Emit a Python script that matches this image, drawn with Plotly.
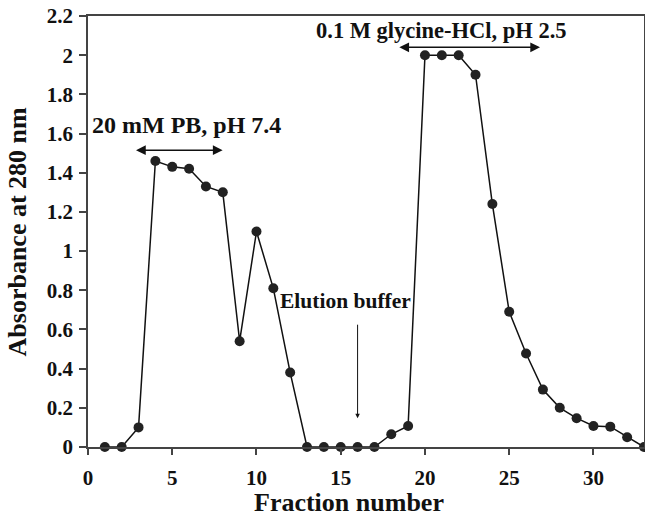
import plotly.graph_objects as go

fraction = list(range(1, 34))
absorbance = [0, 0, 0.10, 1.46, 1.43, 1.42, 1.33, 1.30, 0.54, 1.10, 0.81, 0.38,
              0, 0, 0, 0, 0, 0.065, 0.107, 2.0, 2.0, 2.0, 1.90, 1.24, 0.69, 0.477,
              0.293, 0.20, 0.147, 0.107, 0.104, 0.05, 0]

x_ticks = [0, 5, 10, 15, 20, 25, 30]
y_ticks = [0, 0.2, 0.4, 0.6, 0.8, 1, 1.2, 1.4, 1.6, 1.8, 2, 2.2]
y_ticklabels = ["0", "0.2", "0.4", "0.6", "0.8", "1", "1.2", "1.4", "1.6", "1.8", "2", "2.2"]

FONT = "Liberation Serif"
fig = go.Figure()
fig.add_trace(go.Scatter(
    x=fraction, y=absorbance, mode="lines+markers",
    line=dict(color="#111111", width=1.5),
    marker=dict(color="#222222", size=10),
    showlegend=False, cliponaxis=False, hoverinfo="x+y",
))

texts = [
    dict(x=5.82, y=1.643, text="<b>20 mM PB, pH 7.4</b>", size=24),
    dict(x=20.97, y=2.128, text="<b>0.1 M glycine-HCl, pH 2.5</b>", size=22.5),
    dict(x=15.3, y=0.744, text="<b>Elution buffer</b>", size=21.5),
]
for t in texts:
    fig.add_annotation(x=t["x"], y=t["y"], text=t["text"], showarrow=False,
                       font=dict(family=FONT, size=t["size"], color="#111111"),
                       xref="x", yref="y")

# double-headed arrows
arrows = [
    (2.76, 1.515, 7.99, 1.515),
    (18.39, 2.04, 26.83, 2.04),
]
for x0, y0, x1, y1 in arrows:
    fig.add_annotation(x=x1, y=y1, ax=x0, ay=y0, xref="x", yref="y", axref="x", ayref="y",
                       text="", showarrow=True, arrowhead=2, startarrowhead=2,
                       arrowside="end+start", arrowsize=1.3, arrowwidth=1.5,
                       arrowcolor="#111111")
fig.add_annotation(x=16, y=0.147, ax=16, ay=0.632, xref="x", yref="y", axref="x", ayref="y",
                   text="", showarrow=True, arrowhead=2, arrowsize=0.9, arrowwidth=1,
                   arrowcolor="#111111")

# axis titles
title_font = dict(family=FONT, size=26, color="#111111")
fig.add_annotation(x=0.469, y=-0.129, xref="paper", yref="paper", text="<b>Fraction number</b>",
                   showarrow=False, font=title_font, xanchor="center", yanchor="middle")
fig.add_annotation(x=-0.126, y=0.50, xref="paper", yref="paper", text="<b>Absorbance at 280 nm</b>",
                   showarrow=False, font=title_font, textangle=-90,
                   xanchor="center", yanchor="middle")

fig.update_layout(
    width=645, height=520,
    margin=dict(l=88, r=1, t=16, b=73),
    paper_bgcolor="white", plot_bgcolor="white",
    font=dict(family=FONT, color="#111111"),
    xaxis=dict(
        range=[0, 33], tickvals=x_ticks, ticktext=[f"<b>{v}</b>" for v in x_ticks],
        showgrid=False, zeroline=False, automargin=False,
        showline=True, linecolor="#444444", linewidth=1.8, mirror=True,
        ticks="outside", ticklen=6, tickcolor="#444444", tickwidth=1.5,
        ticklabelstandoff=5,
        tickfont=dict(family=FONT, size=21, color="#111111"),
    ),
    yaxis=dict(
        range=[0, 2.2], tickvals=y_ticks, ticktext=[f"<b>{s}</b>" for s in y_ticklabels],
        showgrid=False, zeroline=False, automargin=False,
        showline=True, linecolor="#444444", linewidth=1.8, mirror=True,
        ticks="outside", ticklen=7, tickcolor="#444444", tickwidth=1.5,
        ticklabelstandoff=2,
        tickfont=dict(family=FONT, size=21, color="#111111"),
    ),
)
fig.write_html("out.html", config={"displayModeBar": False},
               post_script="document.body.style.margin='0';document.body.style.overflow='hidden';")
